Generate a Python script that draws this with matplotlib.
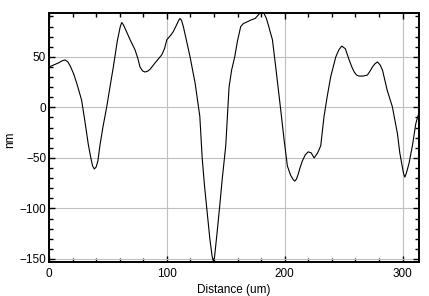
import matplotlib
matplotlib.use("Agg")
import matplotlib.pyplot as plt
from matplotlib.ticker import MultipleLocator

distance_um = [0, 4, 8, 11, 13.6, 16, 18, 21, 23.5, 25.5, 27.7, 30.5, 33.4, 35.5, 37, 38.5, 40, 41.5,
               43.3, 46, 49, 52, 54.6, 58, 60.5, 61.7, 63, 65, 68.8, 73, 75.5, 77.2, 79.5, 81.5, 84,
               86, 90, 95.7, 98, 100, 103, 105.5, 108, 110, 111.2, 112.5, 114, 116.5, 119.7, 124,
               128, 130, 132, 133.9, 136.5, 138.5, 139.5, 140.5, 142.9, 145, 147, 150, 152.8, 155,
               157.6, 160, 162.7, 165, 167, 171.2, 175, 178, 179.7, 182.5, 184.5, 186, 189.6,
               192.4, 196.7, 199.5, 202.3, 205, 207, 208.5, 210, 211.5, 213, 215, 217.5, 219.9,
               222.5, 225, 228, 230.6, 233.4, 236, 239, 243.4, 246, 248.5, 251.5, 254.7, 257,
               259, 261, 263, 266.5, 270.2, 272.5, 274.5, 276.5, 278.7, 281, 283, 287, 291.4,
               295.7, 297.7, 300, 301, 302, 303, 304, 305.6, 308.4, 311.3, 314]
height_nm = [40, 42, 44, 46, 47, 45, 41, 33, 24, 16, 7, -14, -37, -50, -58, -61, -59, -53,
             -37, -18, 0.6, 22, 40, 66, 80, 84, 82, 77, 67, 57, 48, 40, 36, 35, 36,
             38, 44, 52, 58, 67, 71, 75, 81, 86, 88, 86, 80, 67, 50, 24,
             -9, -50, -78, -100, -130, -148, -152, -148, -121, -96, -71, -38, 20, 37,
             50, 66, 80, 83, 84, 86.4, 88, 92, 94, 93, 88, 82, 67,
             40, -3, -32, -58, -67, -71, -73, -71, -66, -60, -53, -47, -44,
             -45, -50, -45, -38, -9, 10, 30, 50, 57, 60.7, 58, 47, 40,
             35, 32, 31, 31, 32, 36, 40, 43, 45, 42, 37, 17, 0.6,
             -26, -45, -60, -66, -69, -66, -62, -55, -38, -16, -5]

x_ticks = [0, 100, 200, 300]
y_ticks = [-150, -100, -50, 0, 50]

plt.rcParams['font.family'] = ['Liberation Sans', 'DejaVu Sans']
fig = plt.figure(figsize=(4.29, 2.96), dpi=100)
ax = fig.add_axes([49/429, 34/296, 370/429, 249.3/296])
ax.plot(distance_um, height_nm, color='black', lw=0.8)
ax.set_xlim(0, 314)
ax.set_ylim(-153, 93.7)
ax.set_xticks(x_ticks)
ax.set_yticks(y_ticks)
ax.xaxis.set_minor_locator(MultipleLocator(20))
ax.yaxis.set_minor_locator(MultipleLocator(10))
ax.grid(True, which='major', color='#c0c0c0', lw=0.8)
ax.set_axisbelow(True)
ax.tick_params(which='both', direction='in', top=True, right=True, labelsize=8.5, color='black')
ax.tick_params(which='major', length=4, width=1)
ax.tick_params(which='minor', length=3.2, width=1)
ax.tick_params(axis='x', pad=4)
ax.tick_params(axis='y', pad=2)
for s in ax.spines.values():
    s.set_linewidth(1.4)
ax.set_xlabel('Distance (um)', fontsize=8.5, va='center')
ax.set_ylabel('nm', fontsize=8.5, va='center')
ax.xaxis.set_label_coords(0.5, -0.112)
ax.yaxis.set_label_coords(-0.105, 0.49)
fig.savefig('out.png', dpi=100)
